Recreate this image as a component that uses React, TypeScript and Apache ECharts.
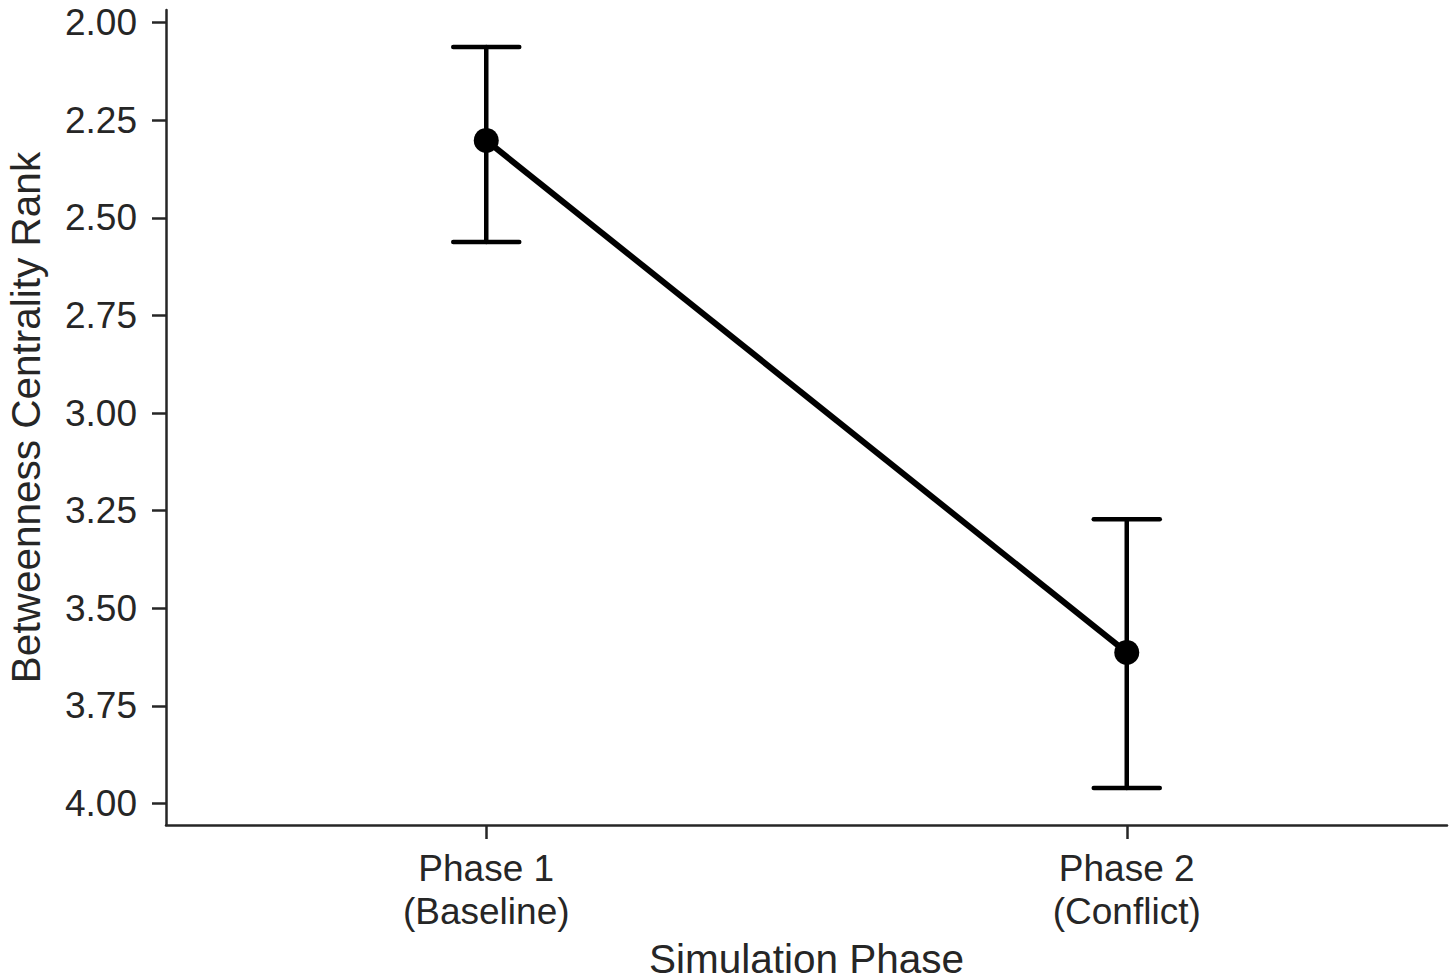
import React, { useEffect, useRef } from "react";
import * as echarts from "echarts";

const categories = ["Phase 1\n(Baseline)", "Phase 2\n(Conflict)"];
const means = [2.302, 3.613];
const ciLow = [2.063, 3.272];
const ciHigh = [2.562, 3.96];
const yTicks = [2.0, 2.25, 2.5, 2.75, 3.0, 3.25, 3.5, 3.75, 4.0];
const yMin = 1.968;
const yMax = 4.055;

const TXT = "#262626";
const FONT = "Liberation Sans, Arial, sans-serif";

export default function App() {
  const ref = useRef<HTMLDivElement>(null);
  useEffect(() => {
    if (!ref.current) return;
    const chart = echarts.init(ref.current, undefined, { renderer: "svg" });
    const errData = categories.map((_, i) => [i, ciLow[i], ciHigh[i]]);
    chart.setOption({
      animation: false,
      backgroundColor: "#ffffff",
      textStyle: { fontFamily: FONT },
      grid: { left: 166, right: 8, top: 10, bottom: 155, containLabel: false, outerBoundsMode: "none" },
      xAxis: {
        type: "category",
        data: categories,
        boundaryGap: true,
        name: "Simulation Phase",
        nameLocation: "middle",
        nameGap: 113,
        nameTextStyle: { fontSize: 40.5, color: TXT, fontFamily: FONT },
        axisLine: { show: true, lineStyle: { color: TXT, width: 2.5 } },
        axisTick: { show: true, alignWithLabel: true, length: 14, lineStyle: { color: TXT, width: 2.5 } },
        axisLabel: { fontSize: 37, color: TXT, fontFamily: FONT, margin: 22, lineHeight: 43 },
        splitLine: { show: false },
      },
      yAxis: {
        type: "value",
        inverse: true,
        min: yMin,
        max: yMax,
        name: "Betweenness Centrality Rank",
        nameLocation: "middle",
        nameGap: 120,
        nameRotate: 90,
        nameTextStyle: { fontSize: 40.5, color: TXT, fontFamily: FONT },
        axisLine: { show: true, lineStyle: { color: TXT, width: 2.5 } },
        axisTick: { show: true, length: 14, customValues: yTicks, lineStyle: { color: TXT, width: 2.5 } },
        axisLabel: {
          fontSize: 37,
          color: TXT,
          fontFamily: FONT,
          margin: 29,
          customValues: yTicks,
          formatter: (v: number) => v.toFixed(2),
        },
        splitLine: { show: false },
      },
      series: [
        {
          type: "custom",
          z: 2,
          data: errData,
          encode: { x: 0, y: [1, 2] },
          renderItem: (params: any, api: any) => {
            const x = api.value(0);
            const lo = api.value(1);
            const hi = api.value(2);
            const p1 = api.coord([x, lo]);
            const p2 = api.coord([x, hi]);
            const hw = 33;
            const st = { stroke: "#000000", lineWidth: 4.5, lineCap: "round" };
            return {
              type: "group",
              children: [
                { type: "line", shape: { x1: p1[0], y1: p1[1], x2: p2[0], y2: p2[1] }, style: st },
                { type: "line", shape: { x1: p1[0] - hw, y1: p1[1], x2: p1[0] + hw, y2: p1[1] }, style: st },
                { type: "line", shape: { x1: p2[0] - hw, y1: p2[1], x2: p2[0] + hw, y2: p2[1] }, style: st },
              ],
            };
          },
        },
        {
          type: "line",
          z: 3,
          data: means,
          symbol: "circle",
          symbolSize: 25,
          itemStyle: { color: "#000000" },
          lineStyle: { color: "#000000", width: 6 },
        },
      ],
    });
    return () => chart.dispose();
  }, []);
  return <div ref={ref} style={{ position: "fixed", left: 0, top: 0, width: 1455, height: 980 }} />;
}
